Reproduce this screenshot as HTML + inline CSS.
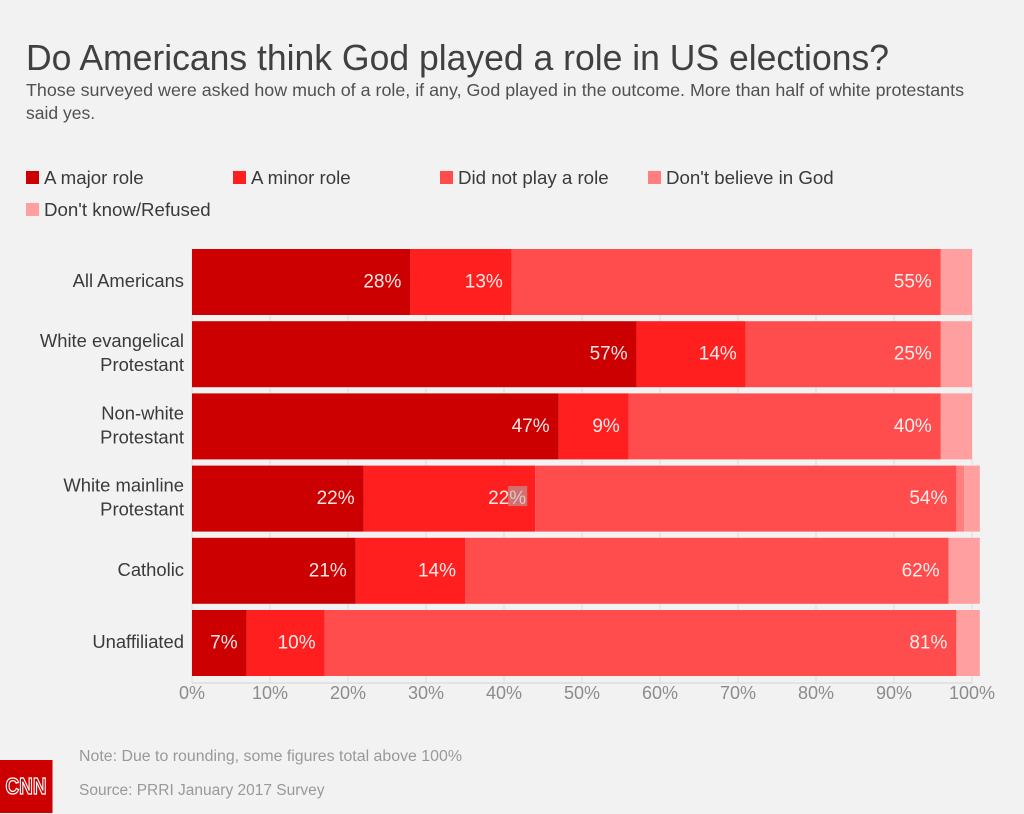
<!DOCTYPE html>
<html lang="en">
<head>
<meta charset="utf-8">
<title>Do Americans think God played a role in US elections?</title>
<style>
html,body{margin:0;padding:0;background:#f2f2f2;}
body{width:1024px;height:814px;overflow:hidden;}
svg{display:block;font-family:"Liberation Sans",Arial,sans-serif;}
</style>
</head>
<body>
<svg id="chart" width="1024" height="814" viewBox="0 0 1024 814" xmlns="http://www.w3.org/2000/svg">
  <rect x="0" y="0" width="1024" height="814" fill="#f2f2f2"/>
  <text x="26" y="70" font-size="36" fill="#404040" textLength="863" lengthAdjust="spacingAndGlyphs">Do Americans think God played a role in US elections?</text>
  <text x="26" y="96" font-size="17.5" fill="#505050" textLength="938" lengthAdjust="spacingAndGlyphs">Those surveyed were asked how much of a role, if any, God played in the outcome. More than half of white protestants</text>
  <text x="26" y="119" font-size="17.5" fill="#505050">said yes.</text>
  <g id="legend"></g>
  <g id="grid"></g>
  <g id="bars"></g>
  <g id="xaxis"></g>
  <text x="79" y="761" font-size="15.5" fill="#999" textLength="383" lengthAdjust="spacingAndGlyphs">Note: Due to rounding, some figures total above 100%</text>
  <text x="79" y="795" font-size="15.5" fill="#999">Source: PRRI January 2017 Survey</text>
  <g>
    <rect x="0" y="760" width="52.500" height="53" fill="#cc0000"/>
    <text x="26" y="794" font-size="23" font-weight="bold" text-anchor="middle" fill="#cc0000" stroke="#ffffff" stroke-width="1.300" textLength="41" lengthAdjust="spacingAndGlyphs">CNN</text>
  </g>
</svg>
<script>
var categories = [["All Americans"], ["White evangelical", "Protestant"], ["Non-white", "Protestant"], ["White mainline", "Protestant"], ["Catholic"], ["Unaffiliated"]];
var seriesNames = ["A major role", "A minor role", "Did not play a role", "Don't believe in God", "Don't know/Refused"];
var majorRole = [28, 57, 47, 22, 21, 7];
var minorRole = [13, 14, 9, 22, 14, 10];
var noRole = [55, 25, 40, 54, 62, 81];
var noBelief = [0, 0, 0, 1, 0, 0];
var unknown = [4, 4, 4, 2, 4, 3];
var tickValues = [0, 10, 20, 30, 40, 50, 60, 70, 80, 90, 100];

var NS = "http://www.w3.org/2000/svg";
var colors = ["#cc0000", "#ff1f1f", "#ff4c4c", "#ff7f7f", "#ff9f9f"];
var series = [majorRole, minorRole, noRole, noBelief, unknown];
var labelledSeries = 3;
var legendX = [26, 233, 440, 648, 26];
var legendY = [171, 171, 171, 171, 203];
var plotLeft = 192, plotPerUnit = 7.8;
var bandTop = 249, bandStep = 72.2, barHeight = 66;
var axisY = 683;

function xScale(v) { return plotLeft + v * plotPerUnit; }
function yScale(i) { return bandTop + i * bandStep; }
function make(tag, parent) {
  var el = document.createElementNS(NS, tag);
  parent.appendChild(el);
  return el;
}
function slug(s) { return s.toLowerCase().replace(/[^a-z0-9]+/g, "-"); }

var legend = document.getElementById("legend");
var grid = document.getElementById("grid");
var bars = document.getElementById("bars");
var xaxis = document.getElementById("xaxis");

seriesNames.forEach(function (name, s) {
  var swatch = make("rect", legend);
  
  
  swatch.setAttribute("x", legendX[s]);
  swatch.setAttribute("y", legendY[s]);
  swatch.setAttribute("width", 13);
  swatch.setAttribute("height", 13);
  swatch.setAttribute("fill", colors[s]);
  var label = make("text", legend);
  
  
  label.setAttribute("x", legendX[s] + 18);
  label.setAttribute("y", legendY[s] + 13);
  label.setAttribute("font-size", 18.7);
  label.setAttribute("fill", "#3a3a3a");
  label.textContent = name;
});

tickValues.forEach(function (t) {
  var line = make("line", grid);
  
  
  line.setAttribute("x1", xScale(t));
  line.setAttribute("x2", xScale(t));
  line.setAttribute("y1", bandTop);
  line.setAttribute("y2", axisY);
  line.setAttribute("stroke", "#dcdcdc");
  line.setAttribute("stroke-width", 1);
  var tick = make("text", xaxis);
  
  
  tick.setAttribute("x", xScale(t));
  tick.setAttribute("y", 699);
  tick.setAttribute("font-size", 18);
  tick.setAttribute("text-anchor", "middle");
  tick.setAttribute("fill", "#8c8c8c");
  tick.textContent = t + "%";
});
var axisLine = make("line", xaxis);


axisLine.setAttribute("x1", xScale(tickValues[0]));
axisLine.setAttribute("x2", xScale(tickValues[tickValues.length - 1]));
axisLine.setAttribute("y1", axisY);
axisLine.setAttribute("y2", axisY);
axisLine.setAttribute("stroke", "#d4d4d4");
axisLine.setAttribute("stroke-width", 1);

categories.forEach(function (cat, i) {
  var y = yScale(i);
  var mid = y + barHeight / 2;
  cat.forEach(function (line, k) {
    var catLabel = make("text", bars);
    
    
    catLabel.setAttribute("x", 184);
    catLabel.setAttribute("y", mid + 5 + (k - (cat.length - 1) / 2) * 24);
    catLabel.setAttribute("font-size", 18.4);
    catLabel.setAttribute("text-anchor", "end");
    catLabel.setAttribute("fill", "#3a3a3a");
    catLabel.textContent = line;
  });
  var cum = 0;
  series.forEach(function (values, s) {
    var v = values[i];
    if (v > 0) {
      var seg = make("rect", bars);
      
      
      seg.setAttribute("x", xScale(cum));
      seg.setAttribute("y", y);
      seg.setAttribute("width", xScale(cum + v) - xScale(cum));
      seg.setAttribute("height", barHeight);
      seg.setAttribute("fill", colors[s]);
      if (s < labelledSeries) {
        var val = make("text", bars);
        
        
        val.setAttribute("x", xScale(cum + v) - 9);
        val.setAttribute("y", mid + 5.5);
        val.setAttribute("font-size", 19);
        val.setAttribute("text-anchor", "end");
        val.setAttribute("fill", "#fff");
        val.setAttribute("fill-opacity", "0.9");
        val.textContent = v + "%";
      }
    }
    cum += v;
  });
});

/* grey selection artefact over the % sign of the White mainline "A minor role" label */
var artefactRow = 3;
var artefactEnd = majorRole[artefactRow] + minorRole[artefactRow];
var artefact = make("rect", bars);


artefact.setAttribute("x", xScale(artefactEnd) - 27);
artefact.setAttribute("y", yScale(artefactRow) + 20.500);
artefact.setAttribute("width", 19);
artefact.setAttribute("height", 20);
artefact.setAttribute("fill", "#b0b0b0");
artefact.setAttribute("fill-opacity", "0.55");
</script>
</body>
</html>
